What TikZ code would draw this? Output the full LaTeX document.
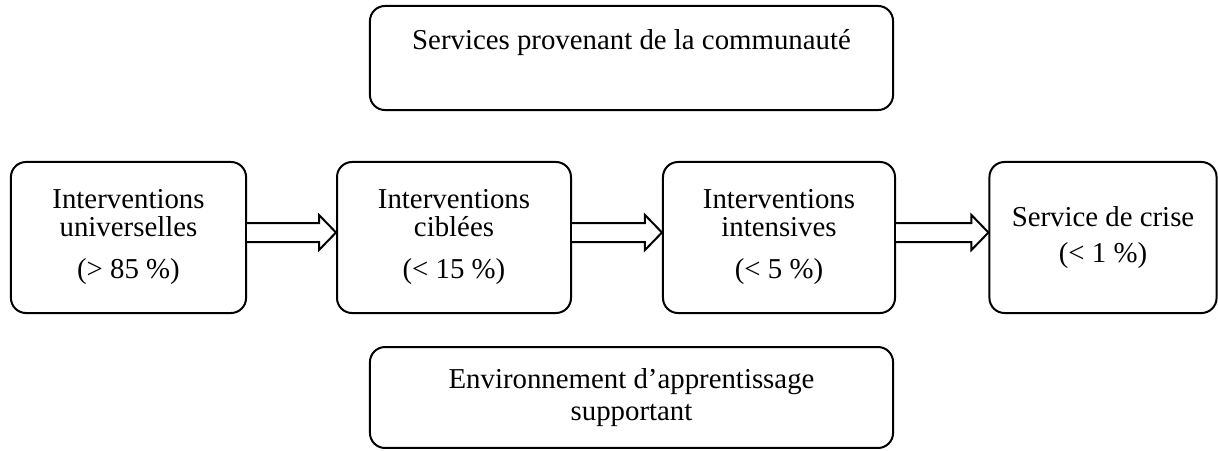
\documentclass[tikz,border=0pt]{standalone}
\usepackage{fontspec}
\setmainfont{Liberation Serif}
\usepackage{tikz}
\usetikzlibrary{calc}

% hollow block arrow from the east side of #1 to the west side of #2
\newcommand{\hollowarrow}[2]{%
  \draw[blockarrow] ($(#1.east)+(0,-14.5)$) -- ($(#2.west)+(-17,-14.5)$) -- ($(#2.west)+(-17,-22.5)$)
    -- ($(#2.west)+(0,-5)$) -- ($(#2.west)+(-17,12.5)$) -- ($(#2.west)+(-17,4.5)$) -- ($(#1.east)+(0,4.5)$);}

\begin{document}
\begin{tikzpicture}[
    x=0.025cm, y=-0.025cm,
    level/.style={draw=black, line width=1.42pt, rounded corners=10.7pt, align=center,
      inner sep=0pt, minimum height=107.4pt, font=\fontsize{20.5}{19.9}\selectfont},
    frame/.style={draw=black, line width=1.42pt, rounded corners=10.7pt, align=center,
      inner sep=0pt, minimum width=372pt, font=\fontsize{20.5}{19.9}\selectfont},
    blockarrow/.style={draw=black, line width=1.42pt, fill=white, line join=miter}
]
\useasboundingbox (0,0) rectangle (1218,450);

\node[frame, minimum height=74pt] (community) at (631.5,58) {Services provenant de la communauté\\\strut};

\node[level, minimum width=167.2pt] (universal) at (128.5,237.5) {Interventions\\universelles\\[10pt](> 85~\%)};
\node[level, minimum width=166.4pt] (targeted) at (454,237.5) {Interventions\\ciblées\\[10pt](< 15~\%)};
\node[level, minimum width=165pt] (intensive) at (779,237.5) {Interventions\\intensives\\[10pt](< 5~\%)};
\node[level, minimum width=161.5pt] (crisis) at (1103,237.5) {Service de crise\\[6pt](< 1~\%)};

\node[frame, minimum height=71.8pt] (environment) at (631.5,397.5) {Environnement d’apprentissage\\[2.5pt]supportant};

\hollowarrow{universal}{targeted}
\hollowarrow{targeted}{intensive}
\hollowarrow{intensive}{crisis}
\end{tikzpicture}
\end{document}
